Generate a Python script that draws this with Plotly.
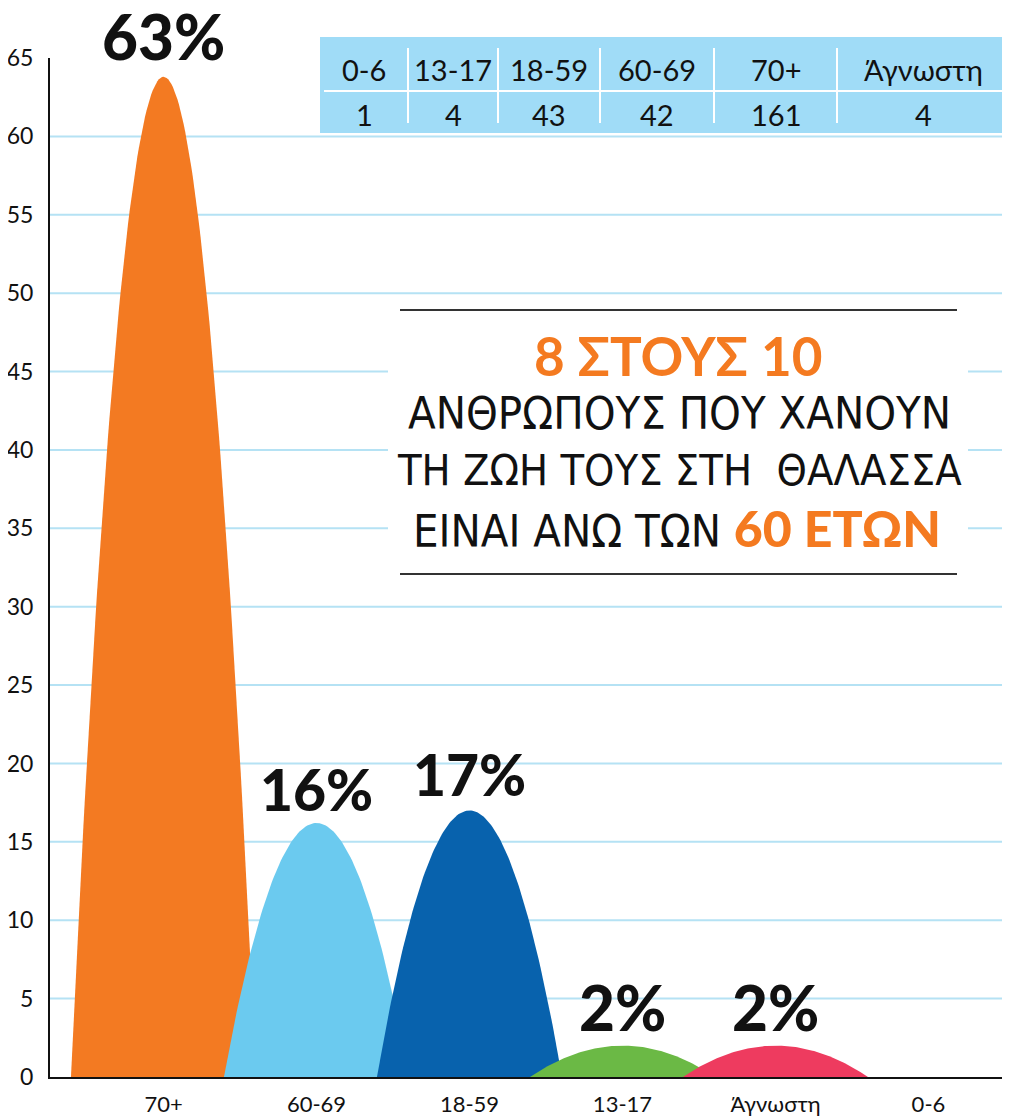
import plotly.graph_objects as go
import numpy as np

# ---- data ----
categories = ["70+", "60-69", "18-59", "13-17", "Άγνωστη", "0-6"]
arch_heights = [63.8, 16.2, 17.0, 2.0, 2.0, 0.0]          # % (arch peaks)
pct_labels = ["63%", "16%", "17%", "2%", "2%", ""]
arch_colors = ["#f37a22", "#6bcaef", "#0862ad", "#6bb945", "#ee3b5f", "#ffffff"]

table_groups = ["0-6", "13-17", "18-59", "60-69", "70+", "Άγνωστη"]
table_counts = [1, 4, 43, 42, 161, 4]

y_ticks = list(range(0, 70, 5))

# page body has an 8px margin -> figure drawn from (8, 8)
OFF = 8
W, H = 1010 - OFF, 1118 - OFF
PLOT_L, PLOT_T, PLOT_B = 50, 58, 1077          # page pixels of the plot area
ML, MR, MT, MB = PLOT_L - OFF, 0, PLOT_T - OFF, H - (PLOT_B - OFF)
PW, PH = W - ML - MR, H - MT - MB


def px(X):
    return (X - OFF - ML) / PW


def py(Y):
    return (H - MB - (Y - OFF)) / PH


fig = go.Figure()

half_w = 0.605
t = np.linspace(-1, 1, 121)
for i, (cat, h, col) in enumerate(zip(categories, arch_heights, arch_colors)):
    if h <= 0:
        continue
    xs = i + t * half_w
    ys = h * (1 - t ** 2)
    fig.add_trace(go.Scatter(x=list(xs) + [xs[0]], y=list(ys) + [0], fill="toself",
                             fillcolor=col, mode="lines", line=dict(width=0, color=col),
                             hoverinfo="skip", showlegend=False))

pct_sizes = [62, 57, 57, 62, 62, 62]
pct_shift = [2, -2, 0, 0, 0, 0]
for i, (lab, h) in enumerate(zip(pct_labels, arch_heights)):
    if not lab:
        continue
    fig.add_annotation(x=i, y=h, xref="x", yref="y", text=lab, showarrow=False,
                       xanchor="center", yanchor="bottom", yshift=pct_shift[i],
                       font=dict(family="Lato", size=pct_sizes[i], color="#111", weight=900))

shapes = []
# gridlines (no line at the top tick)
for v in y_ticks[1:-1]:
    shapes.append(dict(type="line", xref="paper", yref="y", x0=0, x1=1, y0=v, y1=v,
                       line=dict(color="#b5e2f4", width=2), layer="below"))

# white box behind the headline
shapes.append(dict(type="rect", xref="paper", yref="paper", x0=px(388), x1=px(968),
                   y0=py(597), y1=py(300), fillcolor="white", line=dict(width=0), layer="below"))
for Y in (310, 574):
    shapes.append(dict(type="line", xref="paper", yref="paper", x0=px(400), x1=px(957),
                       y0=py(Y), y1=py(Y), line=dict(color="#333", width=2)))

# counts table
col_edges = [320, 408, 498, 600, 714, 837, 1010]
shapes.append(dict(type="rect", xref="paper", yref="paper", x0=px(320), x1=px(1010),
                   y0=py(133), y1=py(37), fillcolor="#a0dcf7", line=dict(width=0)))
shapes.append(dict(type="line", xref="paper", yref="paper", x0=px(324), x1=px(1002),
                   y0=py(91), y1=py(91), line=dict(color="white", width=2)))
for X in col_edges[1:-1]:
    shapes.append(dict(type="line", xref="paper", yref="paper", x0=px(X), x1=px(X),
                       y0=py(123), y1=py(48), line=dict(color="white", width=2)))

for j, (g, c) in enumerate(zip(table_groups, table_counts)):
    cx = (col_edges[j] + col_edges[j + 1]) / 2
    fig.add_annotation(x=px(cx), y=py(69), xref="paper", yref="paper", text=g, showarrow=False,
                       xanchor="center", yanchor="middle",
                       font=dict(family="Lato", size=29, color="#111"))
    fig.add_annotation(x=px(cx), y=py(115), xref="paper", yref="paper", text=str(c),
                       xanchor="center", yanchor="middle",
                       showarrow=False, font=dict(family="Lato", size=29, color="#111"))

# headline
orange = "#f47a20"
head_font = "Liberation Sans Narrow, DejaVu Sans Condensed, sans-serif"
fig.add_annotation(x=px(678), y=py(355), xref="paper", yref="paper", text="<b>8 ΣΤΟΥΣ 10</b>",
                   xanchor="center", yanchor="middle",
                   showarrow=False, font=dict(family="Lato", size=53, color=orange, weight=900))
fig.add_annotation(x=px(679), y=py(413), xref="paper", yref="paper", text="ΑΝΘΡΩΠΟΥΣ ΠΟΥ ΧΑΝΟΥΝ",
                   xanchor="center", yanchor="middle", showarrow=False,
                   font=dict(family=head_font, size=45, color="#111"))
fig.add_annotation(x=px(679), y=py(470), xref="paper", yref="paper", text="ΤΗ ΖΩΗ ΤΟΥΣ ΣΤΗ  ΘΑΛΑΣΣΑ",
                   xanchor="center", yanchor="middle", showarrow=False,
                   font=dict(family=head_font, size=43, color="#111"))
fig.add_annotation(x=px(677), y=py(528), xref="paper", yref="paper",
                   text="ΕΙΝΑΙ ΑΝΩ ΤΩΝ <span style='color:%s;font-family:Lato;font-weight:900;font-size:50px'>60 ΕΤΩΝ</span>" % orange,
                   xanchor="center", yanchor="middle",
                   showarrow=False, font=dict(family=head_font, size=45, color="#111"))

fig.update_layout(
    width=W, height=H, margin=dict(l=ML, r=MR, t=MT, b=MB, autoexpand=False),
    paper_bgcolor="white", plot_bgcolor="white", showlegend=False,
    shapes=shapes,
    xaxis=dict(range=[-0.742, 5.533], tickvals=list(range(len(categories))), ticktext=categories,
               showgrid=False, zeroline=False, showline=True, linecolor="#111", linewidth=2,
               ticks="", ticklabelstandoff=7, automargin=False,
               tickfont=dict(family="Lato", size=22, color="#111")),
    yaxis=dict(range=[0, 65], tickvals=y_ticks, showgrid=False, zeroline=False,
               showline=True, linecolor="#111", linewidth=2, ticks="", ticklabelstandoff=10,
               automargin=False,
               tickfont=dict(family="Lato", size=23, color="#111")),
)

fig.write_html("out.html")
